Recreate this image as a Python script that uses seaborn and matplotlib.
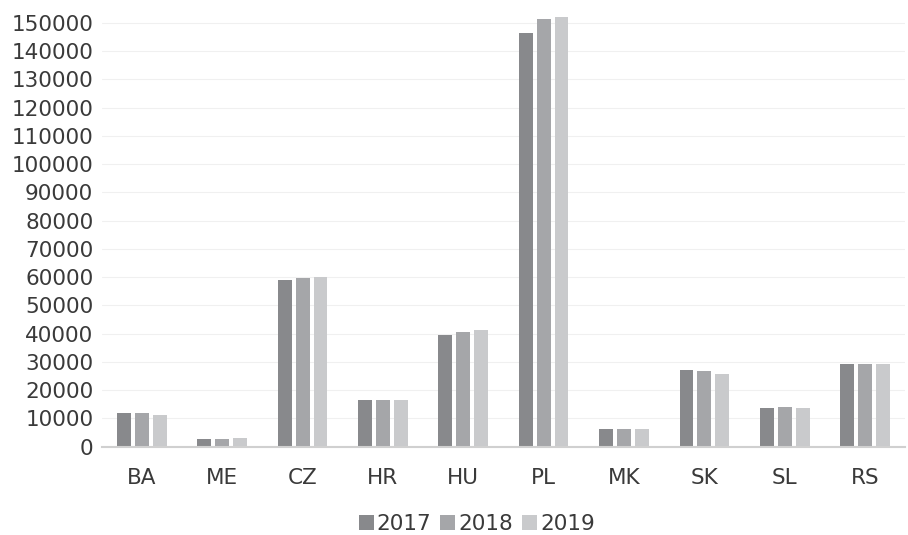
import matplotlib
matplotlib.use("Agg")
import matplotlib.pyplot as plt
import seaborn as sns
import pandas as pd

countries = ["BA", "ME", "CZ", "HR", "HU", "PL", "MK", "SK", "SL", "RS"]
years = ["2017", "2018", "2019"]
values_2017 = [11800, 2700, 59000, 16400, 39600, 146300, 6150, 27000, 13550, 29350]
values_2018 = [11800, 2700, 59800, 16600, 40600, 151300, 6150, 26750, 13900, 29300]
values_2019 = [11200, 3100, 60100, 16500, 41300, 152000, 6350, 25900, 13700, 29100]
yticks = list(range(0, 150001, 10000))

df = pd.DataFrame({
    "country": countries * 3,
    "year": [years[0]] * 10 + [years[1]] * 10 + [years[2]] * 10,
    "value": values_2017 + values_2018 + values_2019,
})

sns.set_theme(style="white")
plt.rcParams["font.family"] = ["DejaVu Sans"]
text_color = "#3a3a3a"
palette = ["#88898c", "#a5a6a9", "#c9cacc"]

fig = plt.figure(figsize=(9.08, 5.35), dpi=100)
ax = fig.add_axes([0.112, 0.165, 0.885, 0.816])

sns.barplot(data=df, x="country", y="value", hue="year", palette=palette,
            width=0.667, edgecolor="none", linewidth=0, saturation=1,
            ax=ax, zorder=3)

# narrow each bar inside its slot to leave a small white gap between years
bar_w = 0.173
for patch in ax.patches:
    if patch.get_height() > 0:
        cx = patch.get_x() + patch.get_width() / 2
        patch.set_width(bar_w)
        patch.set_x(cx - bar_w / 2)

ax.set_ylim(0, 154500)
ax.set_yticks(yticks)
ax.set_yticklabels([str(t) for t in yticks])
ax.yaxis.grid(True, color="#f0f0f0", linewidth=0.8, zorder=0)
ax.set_axisbelow(True)
for side in ["top", "right", "left"]:
    ax.spines[side].set_visible(False)
ax.spines["bottom"].set_color("#d0d0d0")
ax.spines["bottom"].set_linewidth(1.5)
ax.spines["bottom"].set_zorder(4)
ax.tick_params(axis="both", length=0, labelsize=15.5, labelcolor=text_color)
ax.tick_params(axis="y", pad=6)
ax.tick_params(axis="x", pad=15)
ax.set_xlabel("")
ax.set_ylabel("")
ax.set_xlim(-0.5, 9.5)

handles, labels = ax.get_legend_handles_labels()
ax.legend_.remove()
fig.legend(handles, labels, loc="lower center", bbox_to_anchor=(0.525, -0.035),
           ncol=3, frameon=False, fontsize=15.5, labelcolor=text_color,
           handlelength=0.7, handleheight=0.7, handletextpad=0.15,
           columnspacing=0.4)

fig.savefig("out.png", dpi=100)
